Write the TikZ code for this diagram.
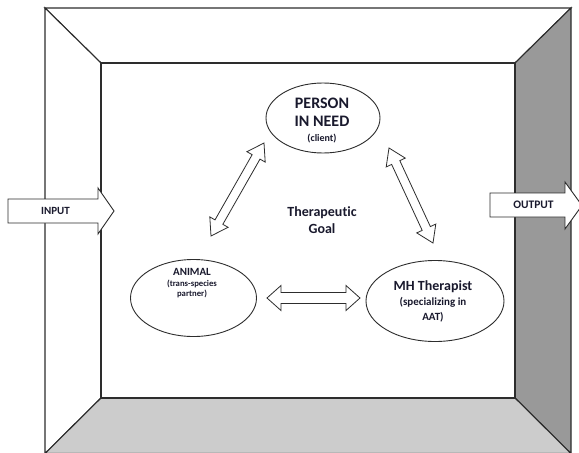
\documentclass[tikz,border=0pt]{standalone}
\usepackage{fontspec}
\setmainfont{Carlito}[Ligatures=NoCommon]
\usetikzlibrary{shapes.geometric,calc}
\definecolor{txt}{RGB}{25,25,45}
\definecolor{rwall}{RGB}{153,153,153}
\definecolor{floorc}{RGB}{204,204,204}
\definecolor{edgec}{RGB}{45,45,45}
\tikzset{
  wall/.style={draw=edgec,line width=1.1pt,line join=miter},
  oval/.style={draw=edgec,line width=0.9pt,ellipse,inner sep=0pt,fill=white},
  lbl/.style={text=txt,align=center,inner sep=0pt},
  blockarrow/.style={draw=edgec,line width=0.8pt,fill=white,line join=miter},
  ioarrow/.style={draw=edgec,line width=0.9pt,fill=white,line join=miter}
}
\newcommand\dblarr[5]{%
  \draw[blockarrow] (#1)
   -- ($(#1)!#5!(#2)!#4!90:(#2)$)
   -- ($(#1)!#5!(#2)!#3!90:(#2)$)
   -- ($(#2)!#5!(#1)!#3!-90:(#1)$)
   -- ($(#2)!#5!(#1)!#4!-90:(#1)$)
   -- (#2)
   -- ($(#2)!#5!(#1)!#4!90:(#1)$)
   -- ($(#2)!#5!(#1)!#3!90:(#1)$)
   -- ($(#1)!#5!(#2)!#3!-90:(#2)$)
   -- ($(#1)!#5!(#2)!#4!-90:(#2)$)
   -- cycle;}
\newcommand\smallA{\fontsize{8.7}{10}\selectfont}
\newcommand\smallC{\fontsize{10}{11}\selectfont}
\newcommand\smallB{\fontsize{11}{14}\selectfont}
\begin{document}
\begin{tikzpicture}[x=1pt,y=-1pt]
\useasboundingbox (0,0) rectangle (579,453);
\fill[white] (0,0) rectangle (579,453);
% room corners
\coordinate (o1) at (45,8);
\coordinate (o2) at (571,8);
\coordinate (o3) at (571,453.5);
\coordinate (o4) at (45,453.5);
\coordinate (i1) at (101,63);
\coordinate (i2) at (515,63);
\coordinate (i3) at (515,398);
\coordinate (i4) at (101,398);
% walls
\draw[wall,fill=white] (o1) -- (o2) -- (i2) -- (i1) -- cycle;
\draw[wall,fill=white] (o1) -- (i1) -- (i4) -- (o4) -- cycle;
\draw[wall,fill=rwall] (o2) -- (o3) -- (i3) -- (i2) -- cycle;
\draw[wall,fill=floorc] (i4) -- (i3) -- (o3) -- (o4) -- cycle;
\draw[wall,fill=white] (i1) rectangle (i3);
% ellipses
\node[oval,minimum width=114pt,minimum height=70pt] (person) at (323,118) {};
\node[oval,minimum width=126pt,minimum height=77pt] (animal) at (193.5,298) {};
\node[oval,minimum width=138pt,minimum height=81pt] (mh) at (435,301) {};
% labels
\node[lbl,font=\bfseries\fontsize{16}{18}\selectfont] (personlbl) at (322,121)
  {PERSON\\IN NEED\\[-3pt]{\smallC (client)}};
\node[lbl,font=\bfseries\fontsize{11}{12}\selectfont] (animallbl) at (192,283)
  {ANIMAL\\[-1pt]{\smallA (trans-species}\\[-2pt]{\smallA partner)}};
\node[lbl,font=\bfseries\fontsize{14}{15}\selectfont] (mhlbl) at (433,301)
  {MH Therapist\\{\smallB (specializing in}\\{\smallB AAT)}};
\node[lbl,font=\bfseries\fontsize{14}{16.5}\selectfont] (goal) at (322,220) {Therapeutic\\Goal};
% double arrows
\coordinate (pa1) at (264,143);
\coordinate (pa2) at (211,236);
\coordinate (pm1) at (389,148);
\coordinate (pm2) at (433,243);
\coordinate (am1) at (267,298);
\coordinate (am2) at (360,298);
\dblarr{pa2}{pa1}{4.5pt}{10.5pt}{16pt}
\dblarr{pm1}{pm2}{4.5pt}{10.5pt}{16pt}
\dblarr{am1}{am2}{5.5pt}{12.5pt}{14pt}
% input / output
\draw[ioarrow] (8,199) -- (98,199) -- (98,188) -- (114,211) -- (98,234) -- (98,223) -- (8,223) -- cycle;
\node[lbl,font=\bfseries\fontsize{11}{12}\selectfont] (input) at (55.5,211) {INPUT};
\draw[ioarrow] (490,193) -- (565,193) -- (565,182) -- (582,205.5) -- (565,229) -- (565,217) -- (490,217) -- cycle;
\node[lbl,font=\bfseries\fontsize{11.5}{12}\selectfont] (output) at (533.5,205) {OUTPUT};
\end{tikzpicture}
\end{document}
